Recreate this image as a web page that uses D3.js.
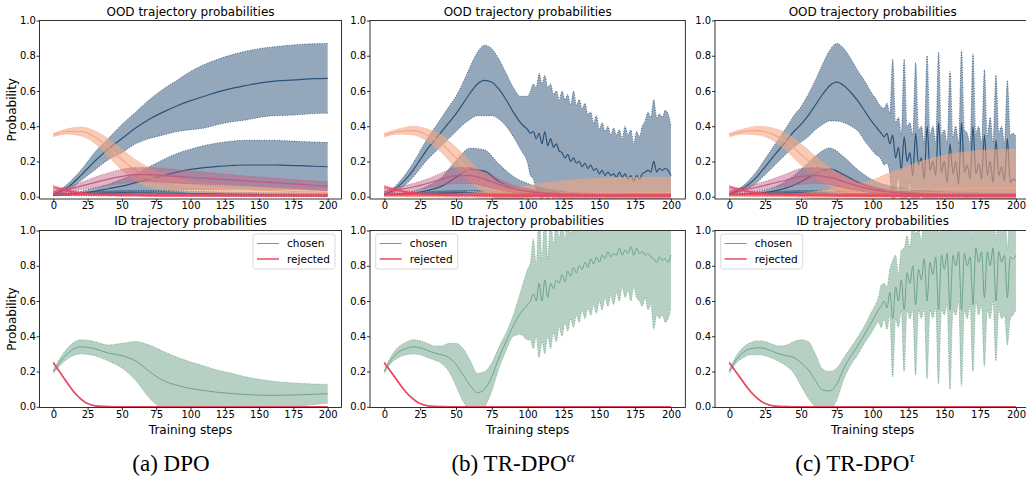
<!DOCTYPE html>
<html><head><meta charset="utf-8">
<script src="https://cdn.jsdelivr.net/npm/d3@7"></script>
<style>body{margin:0;background:#fff}svg{display:block}text{font-family:"DejaVu Sans",sans-serif;fill:#000}</style>
</head><body><svg id="c" width="1026" height="477"></svg>
<script>
// ---------------- DATA ----------------
const steps10 = [0,10,20,30,40,50,60,70,80,90,100,110,120,130,140,150,160,170,180,190,200];
const stepsFine = [0,5,10,15,20,25,30,35,40,45,50,55,60,65,70,75,80,85,90,95,100,
 102,104,106,108,110,112,114,116,118,120,122,124,126,128,130,132,134,136,138,140,
 142,144,146,148,150,152,154,156,158,160,162,164,166,168,170,172,174,176,178,180,
 182,184,186,188,190,192,194,196,198,200];
const xTicks = [0,25,50,75,100,125,150,175,200];
const yTicks = [0,0.2,0.4,0.6,0.8,1.0];
const captions = ["(a) DPO","(b) TR-DPO","(c) TR-DPO"];
const captionSup = ["","\u03b1","\u03c4"];
const legendLabels = ["chosen","rejected"];

// DPO - OOD
const dpoB1Mean = [0.015,0.05,0.12,0.2,0.27,0.33,0.39,0.44,0.48,0.515,0.545,0.57,0.595,0.615,0.63,0.645,0.655,0.66,0.665,0.67,0.672];
const dpoB1Std  = [0.005,0.02,0.03,0.05,0.06,0.08,0.09,0.11,0.13,0.145,0.165,0.18,0.185,0.19,0.195,0.195,0.195,0.198,0.199,0.198,0.198];
const dpoB2Mean = [0.01,0.015,0.02,0.03,0.045,0.06,0.08,0.1,0.12,0.14,0.155,0.165,0.172,0.177,0.18,0.18,0.18,0.178,0.176,0.173,0.17];
const dpoB2Std  = [0.005,0.007,0.01,0.02,0.025,0.04,0.05,0.07,0.09,0.105,0.115,0.125,0.133,0.138,0.14,0.14,0.14,0.139,0.137,0.137,0.137];
const dpoB3Mean = [0.01,0.012,0.015,0.018,0.02,0.022,0.022,0.022,0.02,0.02,0.018,0.017,0.016,0.015,0.014,0.013,0.012,0.012,0.011,0.011,0.01];
const dpoB3Std  = [0.003,0.005,0.008,0.01,0.012,0.013,0.013,0.013,0.013,0.012,0.012,0.012,0.011,0.011,0.011,0.01,0.01,0.01,0.01,0.01,0.01];
const dpoP1Mean = [0.35,0.37,0.37,0.34,0.28,0.21,0.15,0.11,0.085,0.07,0.06,0.052,0.047,0.043,0.04,0.037,0.034,0.031,0.029,0.027,0.025];
const dpoP1Std  = [0.01,0.015,0.025,0.035,0.05,0.06,0.06,0.055,0.045,0.038,0.032,0.028,0.025,0.023,0.022,0.021,0.02,0.02,0.019,0.018,0.018];
const dpoM1Mean = [0.03,0.04,0.06,0.08,0.1,0.115,0.125,0.125,0.12,0.115,0.11,0.105,0.1,0.095,0.09,0.085,0.08,0.075,0.07,0.065,0.06];
const dpoM1Std  = [0.01,0.015,0.02,0.03,0.035,0.04,0.04,0.04,0.04,0.038,0.036,0.034,0.032,0.03,0.028,0.027,0.026,0.025,0.025,0.025,0.025];

// shared low series (all OOD panels)
const oodR1Mean = [0.055,0.035,0.022,0.014,0.01,0.008,0.007,0.006,0.005,0.005,0.005,0.005,0.005,0.005,0.005,0.005,0.005,0.005,0.005,0.005,0.005];
const oodR1Std  = [0.008,0.006,0.005,0.005,0.004,0.004,0.003,0.003,0.003,0.003,0.003,0.003,0.003,0.003,0.003,0.003,0.003,0.003,0.003,0.003,0.003];
const oodR2Mean = [0.015,0.014,0.013,0.012,0.012,0.011,0.011,0.01,0.01,0.01,0.01,0.009,0.009,0.009,0.009,0.008,0.008,0.008,0.008,0.008,0.008];
const oodR2Std  = [0.008,0.008,0.008,0.008,0.008,0.008,0.008,0.008,0.008,0.008,0.008,0.008,0.008,0.008,0.008,0.008,0.008,0.008,0.008,0.008,0.008];
const trB3Mean  = [0.01,0.012,0.015,0.018,0.02,0.022,0.022,0.02,0.018,0.016,0.014,0.012,0.011,0.01,0.01,0.009,0.009,0.008,0.008,0.008,0.008];
const trB3Std   = [0.003,0.005,0.008,0.01,0.012,0.013,0.013,0.013,0.012,0.012,0.011,0.01,0.01,0.01,0.01,0.009,0.009,0.009,0.009,0.009,0.009];

// TR-DPO alpha - OOD
const traB1Mean = [0.015,0.03,0.06,0.1,0.15,0.21,0.27,0.32,0.37,0.42,0.47,0.53,0.59,0.64,0.66,0.65,0.61,0.55,0.48,0.42,0.38,
 0.36,0.37,0.33,0.36,0.30,0.37,0.29,0.33,0.28,0.30, 0.26,0.25,0.22,0.24,0.2,0.22,0.19,0.2,0.17,0.19,
 0.16,0.18,0.15,0.16,0.13,0.15,0.12,0.14,0.12,0.13, 0.11,0.14,0.11,0.13,0.1,0.12,0.09,0.12,0.1,0.13,
 0.14,0.15,0.14,0.2,0.14,0.16,0.15,0.16,0.15,0.12];
const traB1Std  = [0.005,0.01,0.02,0.03,0.04,0.05,0.06,0.07,0.08,0.09,0.1,0.12,0.15,0.18,0.2,0.19,0.17,0.15,0.14,0.15,0.19,
 0.24,0.27,0.29,0.34,0.34,0.32,0.33,0.31,0.30,0.30, 0.29,0.35,0.33,0.34,0.32,0.38,0.33,0.35,0.33,0.34,
 0.31,0.30,0.27,0.30,0.25,0.27,0.25,0.26,0.23,0.26, 0.24,0.24,0.22,0.27,0.25,0.26,0.21,0.25,0.24,0.27,
 0.29,0.33,0.31,0.35,0.31,0.31,0.30,0.33,0.32,0.28];
const traB2Mean = [0.01,0.013,0.02,0.035,0.06,0.11,0.155,0.145,0.085,0.05,0.035,0.025,0.02,0.015,0.012,0.01,0.01,0.01,0.01,0.01,0.01];
const traB2Std  = [0.005,0.007,0.012,0.025,0.05,0.095,0.12,0.12,0.1,0.065,0.04,0.025,0.015,0.01,0.008,0.008,0.008,0.008,0.008,0.008,0.008];
const traP1Mean = [0.35,0.37,0.375,0.35,0.3,0.22,0.14,0.075,0.045,0.03,0.022,0.018,0.015,0.013,0.012,0.011,0.01,0.01,0.01,0.01,0.01];
const traP1Std  = [0.01,0.015,0.025,0.035,0.05,0.06,0.06,0.05,0.035,0.025,0.017,0.013,0.01,0.01,0.01,0.01,0.01,0.01,0.01,0.01,0.01];
const traP2Mean = [0.003,0.003,0.003,0.004,0.005,0.006,0.008,0.01,0.012,0.014,0.015,0.016,0.017,0.018,0.018,0.019,0.019,0.02,0.02,0.02,0.02];
const traP2Std  = [0.003,0.003,0.004,0.006,0.008,0.01,0.012,0.02,0.028,0.036,0.047,0.059,0.068,0.077,0.082,0.086,0.089,0.09,0.09,0.09,0.09];
const traM1Mean = [0.03,0.04,0.055,0.075,0.1,0.12,0.12,0.1,0.07,0.045,0.03,0.02,0.015,0.012,0.01,0.01,0.01,0.01,0.01,0.01,0.01];
const traM1Std  = [0.01,0.015,0.02,0.025,0.035,0.045,0.045,0.04,0.03,0.02,0.015,0.01,0.008,0.007,0.006,0.006,0.006,0.006,0.006,0.006,0.006];

// TR-DPO tau - OOD
const trtB1Mean = [0.015,0.03,0.05,0.08,0.12,0.17,0.22,0.27,0.32,0.37,0.41,0.46,0.52,0.58,0.63,0.65,0.63,0.59,0.54,0.48,0.42,
 0.4,0.38,0.36,0.34,0.36,0.3,0.35,0.22,0.28,0.15, 0.34,0.2,0.25,0.12,0.36,0.18,0.22,0.1,0.4,0.15,
 0.2,0.12,0.42,0.14,0.2,0.08,0.3,0.13,0.2,0.07, 0.42,0.14,0.18,0.1,0.4,0.13,0.19,0.1,0.35,0.12,
 0.2,0.08,0.32,0.12,0.17,0.09,0.33,0.08,0.1,0.09];
const trtB1Std  = [0.005,0.01,0.015,0.025,0.035,0.045,0.055,0.065,0.075,0.09,0.1,0.12,0.14,0.17,0.2,0.22,0.21,0.19,0.17,0.17,0.16,
 0.16,0.15,0.15,0.16,0.17,0.17,0.43,0.2,0.17,0.2, 0.44,0.2,0.17,0.23,0.4,0.2,0.18,0.2,0.4,0.2,
 0.2,0.18,0.4,0.21,0.18,0.22,0.41,0.21,0.2,0.23, 0.41,0.24,0.18,0.2,0.41,0.23,0.21,0.2,0.37,0.22,
 0.25,0.22,0.37,0.24,0.23,0.21,0.33,0.27,0.26,0.25];
const trtB2Mean = [0.01,0.013,0.02,0.03,0.05,0.085,0.13,0.158,0.125,0.08,0.05,0.035,0.027,0.022,0.018,0.015,0.013,0.012,0.011,0.01,0.01];
const trtB2Std  = [0.005,0.007,0.01,0.02,0.04,0.07,0.1,0.118,0.1,0.07,0.045,0.03,0.022,0.018,0.015,0.013,0.012,0.011,0.01,0.01,0.01];
const trtP1Mean = [0.35,0.37,0.375,0.355,0.31,0.24,0.17,0.11,0.07,0.045,0.03,0.022,0.018,0.015,0.013,0.012,0.011,0.01,0.01,0.01,0.01];
const trtP1Std  = [0.01,0.015,0.025,0.035,0.05,0.06,0.06,0.055,0.042,0.03,0.02,0.014,0.01,0.01,0.01,0.01,0.01,0.01,0.01,0.01,0.01];
const trtP2Mean = [0.005,0.005,0.005,0.005,0.006,0.008,0.01,0.015,0.02,0.025,0.03,0.035,0.04,0.042,0.044,0.045,0.046,0.047,0.047,0.047,0.047];
const trtP2Std  = [0.003,0.004,0.005,0.006,0.008,0.012,0.02,0.03,0.04,0.05,0.065,0.095,0.12,0.148,0.171,0.19,0.204,0.213,0.218,0.221,0.223];
const trtM1Mean = [0.03,0.04,0.055,0.075,0.095,0.115,0.12,0.11,0.085,0.06,0.04,0.028,0.02,0.015,0.012,0.01,0.01,0.01,0.01,0.01,0.01];
const trtM1Std  = [0.01,0.015,0.02,0.025,0.035,0.045,0.045,0.042,0.035,0.025,0.018,0.012,0.009,0.007,0.006,0.006,0.006,0.006,0.006,0.006,0.006];

// ID - chosen
const dpoChosenMean = [0.2,0.3,0.34,0.33,0.305,0.29,0.26,0.2,0.15,0.122,0.104,0.092,0.082,0.075,0.07,0.066,0.065,0.066,0.068,0.071,0.074];
const dpoChosenStd  = [0.01,0.03,0.04,0.04,0.045,0.07,0.11,0.15,0.165,0.16,0.15,0.14,0.125,0.115,0.1,0.09,0.08,0.072,0.065,0.058,0.053];
const traChosenMean = [0.2,0.27,0.31,0.33,0.34,0.335,0.32,0.305,0.295,0.28,0.24,0.18,0.12,0.08,0.1,0.17,0.28,0.37,0.46,0.53,0.58,
 0.6,0.64,0.6,0.7,0.6,0.72,0.62,0.7,0.67,0.72, 0.7,0.75,0.71,0.77,0.74,0.79,0.76,0.8,0.78,0.82,
 0.79,0.84,0.81,0.85,0.82,0.86,0.84,0.88,0.85,0.87, 0.86,0.9,0.86,0.89,0.87,0.91,0.86,0.9,0.87,0.88,
 0.86,0.87,0.85,0.84,0.82,0.85,0.83,0.84,0.82,0.86];
const traChosenStd  = [0.01,0.02,0.03,0.035,0.04,0.04,0.04,0.04,0.05,0.08,0.12,0.15,0.14,0.11,0.1,0.08,0.06,0.05,0.06,0.12,0.2,
 0.22,0.31,0.2,0.42,0.23,0.42,0.22,0.37,0.25,0.35, 0.25,0.35,0.23,0.34,0.24,0.34,0.24,0.32,0.23,0.32,
 0.23,0.32,0.23,0.32,0.22,0.31,0.22,0.31,0.22,0.29, 0.21,0.3,0.18,0.27,0.21,0.31,0.18,0.28,0.27,0.31,
 0.24,0.32,0.27,0.4,0.3,0.35,0.31,0.36,0.32,0.3];
const trtChosenMean = [0.2,0.27,0.31,0.33,0.335,0.33,0.315,0.3,0.29,0.28,0.25,0.21,0.15,0.095,0.09,0.13,0.22,0.29,0.35,0.42,0.49,
 0.52,0.55,0.57,0.6,0.56,0.65,0.5,0.68,0.6,0.72, 0.55,0.76,0.7,0.8,0.58,0.78,0.72,0.84,0.6,0.82,
 0.75,0.85,0.55,0.86,0.78,0.87,0.55,0.86,0.8,0.88, 0.55,0.87,0.8,0.85,0.58,0.9,0.82,0.88,0.62,0.88,
 0.8,0.9,0.6,0.88,0.82,0.86,0.62,0.85,0.84,0.86];
const trtChosenStd  = [0.01,0.02,0.03,0.035,0.04,0.04,0.04,0.045,0.06,0.09,0.13,0.16,0.15,0.12,0.11,0.09,0.06,0.05,0.05,0.05,0.06,
 0.06,0.07,0.12,0.1,0.12,0.13,0.33,0.18,0.15,0.17, 0.35,0.21,0.2,0.25,0.4,0.23,0.22,0.28,0.44,0.27,
 0.25,0.29,0.42,0.31,0.26,0.29,0.45,0.31,0.28,0.28, 0.43,0.32,0.3,0.27,0.38,0.3,0.3,0.3,0.39,0.33,
 0.3,0.3,0.34,0.33,0.32,0.34,0.27,0.35,0.32,0.31];
// ID - rejected (same in all three runs)
const rejSteps = [0,4,8,12,16,20,24,28,32,40,50,100,150,200];
const rejMean  = [0.25,0.205,0.16,0.115,0.075,0.045,0.022,0.01,0.004,0.001,0,0,0,0];
const rejStd   = [0.006,0.005,0.005,0.004,0.004,0.003,0.003,0.002,0.002,0.002,0.002,0.002,0.002,0.002];

// ---------------- STYLE ----------------
const C = {blue:"#2b5278", peach:"#f4a582", mauve:"#bf5a80", red:"#eb4863", green:"#6da389"};
const OP = {"#2b5278":0.5, "#f4a582":0.58, "#bf5a80":0.45, "#eb4863":0.5, "#6da389":0.5};
const colX = [[39.6,341.4],[370,685.3],[715,1030.3]];
const rowY = [[20.5,199],[230.5,407.5]];
const yDom = [[-0.013,1],[-0.004,1]];
const capX = [171,513,855];

const S = (steps,mean,std,color,lw)=>({steps,mean,std,color,lw});
const oodSeries = [
 [S(steps10,dpoB1Mean,dpoB1Std,C.blue),S(steps10,dpoB2Mean,dpoB2Std,C.blue),S(steps10,dpoB3Mean,dpoB3Std,C.blue),
  S(steps10,dpoP1Mean,dpoP1Std,C.peach),S(steps10,dpoM1Mean,dpoM1Std,C.mauve),
  S(steps10,oodR1Mean,oodR1Std,C.red),S(steps10,oodR2Mean,oodR2Std,C.red)],
 [S(stepsFine,traB1Mean,traB1Std,C.blue),S(steps10,traB2Mean,traB2Std,C.blue),S(steps10,trB3Mean,trB3Std,C.blue),
  S(steps10,traP1Mean,traP1Std,C.peach),S(steps10,traP2Mean,traP2Std,C.peach),S(steps10,traM1Mean,traM1Std,C.mauve),
  S(steps10,oodR1Mean,oodR1Std,C.red),S(steps10,oodR2Mean,oodR2Std,C.red)],
 [S(stepsFine,trtB1Mean,trtB1Std,C.blue),S(steps10,trtB2Mean,trtB2Std,C.blue),S(steps10,trB3Mean,trB3Std,C.blue),
  S(steps10,trtP1Mean,trtP1Std,C.peach),S(steps10,trtP2Mean,trtP2Std,C.peach),S(steps10,trtM1Mean,trtM1Std,C.mauve),
  S(steps10,oodR1Mean,oodR1Std,C.red),S(steps10,oodR2Mean,oodR2Std,C.red)]
];
const idSeries = [
 [S(steps10,dpoChosenMean,dpoChosenStd,C.green,1),S(rejSteps,rejMean,rejStd,C.red,1.6)],
 [S(stepsFine,traChosenMean,traChosenStd,C.green,1),S(rejSteps,rejMean,rejStd,C.red,1.6)],
 [S(stepsFine,trtChosenMean,trtChosenStd,C.green,1),S(rejSteps,rejMean,rejStd,C.red,1.6)]
];

// ---------------- DRAW ----------------
const svg = d3.select("#c");
const defs = svg.append("defs");

function panel(ci, ri, series){
  const [x0,x1] = colX[ci], [y0,y1] = rowY[ri];
  const x = d3.scaleLinear().domain([-10,210]).range([x0,x1]);
  const y = d3.scaleLinear().domain(yDom[ri]).range([y1,y0]);
  const id = "cp"+ci+ri;
  defs.append("clipPath").attr("id",id).append("rect")
    .attr("x",x0).attr("y",y0).attr("width",x1-x0).attr("height",y1-y0);
  const g = svg.append("g").attr("clip-path",`url(#${id})`);
  series.forEach(s=>{
    const pts = s.steps.map((st,i)=>({s:st,m:s.mean[i],sd:s.std[i]}));
    const cv = d3.curveMonotoneX;
    g.append("path").attr("d", d3.area().x(d=>x(d.s)).y0(d=>y(d.m-d.sd)).y1(d=>y(d.m+d.sd)).curve(cv)(pts))
      .attr("fill",s.color).attr("fill-opacity",OP[s.color]);
    [-1,1].forEach(k=>{
      g.append("path").attr("d", d3.line().x(d=>x(d.s)).y(d=>y(d.m+k*d.sd)).curve(cv)(pts))
        .attr("fill","none").attr("stroke",s.color).attr("stroke-width",1).attr("stroke-dasharray","1,1.5").attr("stroke-opacity",0.85);
    });
    g.append("path").attr("d", d3.line().x(d=>x(d.s)).y(d=>y(d.m)).curve(cv)(pts))
      .attr("fill","none").attr("stroke",s.color).attr("stroke-width",s.lw||1.2);
  });
  // frame
  svg.append("rect").attr("x",x0).attr("y",y0).attr("width",x1-x0).attr("height",y1-y0)
    .attr("fill","none").attr("stroke","#000").attr("stroke-width",0.8);
  const ya = svg.append("g").attr("transform",`translate(${x0},0)`)
    .call(d3.axisLeft(y).tickValues(yTicks).tickFormat(d3.format(".1f")).tickSize(3).tickPadding(0.8));
  const xa = svg.append("g").attr("transform",`translate(0,${y1})`)
    .call(d3.axisBottom(x).tickValues(xTicks).tickFormat(d3.format("d")).tickSize(3).tickPadding(0));
  [ya,xa].forEach(a=>{
    a.select(".domain").remove();
    a.selectAll("line").attr("stroke","#000").attr("stroke-width",0.8);
    a.selectAll("text").attr("font-size",10).attr("font-family","DejaVu Sans").attr("fill","#000");
  });
  // title
  svg.append("text").attr("x",(x0+x1)/2).attr("y", ri===0? 15.5 : 224.5)
    .attr("text-anchor","middle").attr("font-size",12)
    .text(ri===0 ? "OOD trajectory probabilities" : "ID trajectory probabilities");
  if(ci===0){
    svg.append("text").attr("transform",`translate(16,${(y0+y1)/2}) rotate(-90)`)
      .attr("text-anchor","middle").attr("font-size",12).text("Probability");
  }
  if(ri===1){
    svg.append("text").attr("x",(x0+x1)/2).attr("y",434).attr("text-anchor","middle")
      .attr("font-size",12).text("Training steps");
    // legend
    const lx = ci===0 ? 253 : (ci===1 ? 375.7 : 720.7);
    const lg = svg.append("g").attr("transform",`translate(${lx},234)`);
    lg.append("rect").attr("width",82).attr("height",35).attr("rx",2.5)
      .attr("fill","#fff").attr("fill-opacity",0.8).attr("stroke","#d0d0d0").attr("stroke-width",0.8);
    [C.green,C.red].forEach((c,i)=>{
      const yy = 9.5 + i*15.5;
      lg.append("line").attr("x1",4).attr("x2",26).attr("y1",yy).attr("y2",yy)
        .attr("stroke",c).attr("stroke-width", i===0?1:1.5);
      lg.append("text").attr("x",34).attr("y",yy+3.8).attr("font-size",10.5).text(legendLabels[i]);
    });
  }
}

for(let ci=0; ci<3; ci++){
  panel(ci,0,oodSeries[ci]);
  panel(ci,1,idSeries[ci]);
  const t = svg.append("text").attr("x",capX[ci]).attr("y",471).attr("text-anchor","middle")
    .style("font-family","'Liberation Serif','Times New Roman',serif").attr("font-size",23);
  t.append("tspan").text(captions[ci]);
  if(captionSup[ci]) t.append("tspan").attr("dy",-9).attr("font-size",15).attr("font-style","italic").text(captionSup[ci]);
}
</script></body></html>
